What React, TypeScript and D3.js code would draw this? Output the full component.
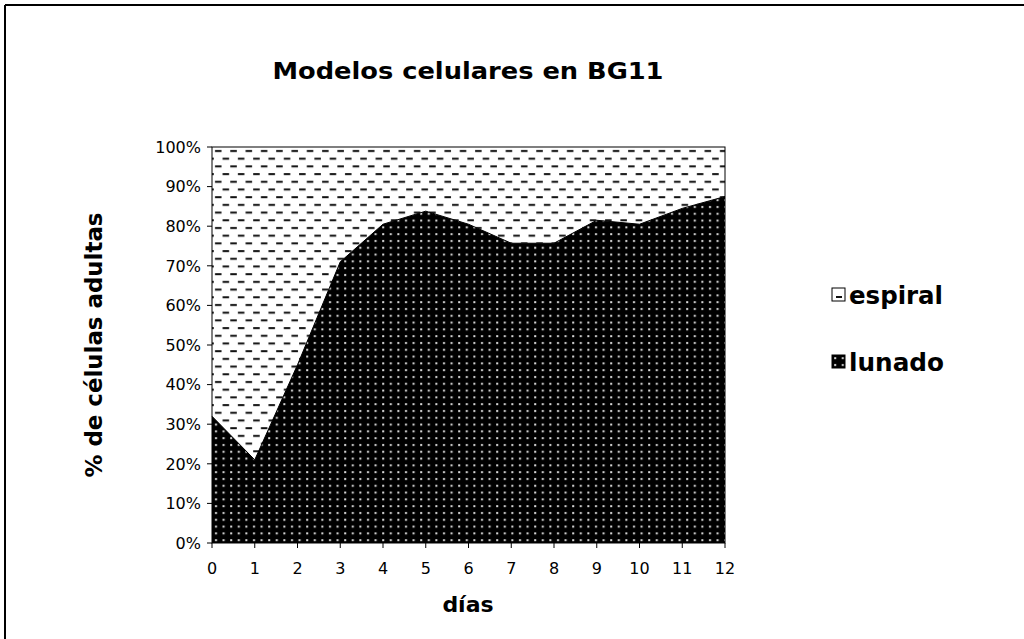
import React from 'react';
import * as d3 from 'd3';

const days = [0, 1, 2, 3, 4, 5, 6, 7, 8, 9, 10, 11, 12];
const lunado = [0.32, 0.21, 0.45, 0.71, 0.805, 0.838, 0.805, 0.757, 0.757, 0.815, 0.805, 0.845, 0.875];
const yTicks = [0, 0.1, 0.2, 0.3, 0.4, 0.5, 0.6, 0.7, 0.8, 0.9, 1];
const seriesNames = ['espiral', 'lunado'];

const font = '"DejaVu Sans", Verdana, sans-serif';

export default function App() {
  const width = 1024;
  const height = 639;
  const left = 212, right = 725, top = 147, bottom = 543;

  const x = d3.scaleLinear().domain([0, 12]).range([left, right]);
  const y = d3.scaleLinear().domain([0, 1]).range([bottom, top]);

  const pts = days.map((d, i) => ({ d, v: lunado[i] }));

  const lunadoArea = d3.area<{ d: number; v: number }>()
    .x((p) => x(p.d))
    .y0(y(0))
    .y1((p) => y(p.v));

  const espiralArea = d3.area<{ d: number; v: number }>()
    .x((p) => x(p.d))
    .y0((p) => y(p.v))
    .y1(y(1));

  const topLine = d3.line<{ d: number; v: number }>()
    .x((p) => x(p.d))
    .y((p) => y(p.v));

  return (
    <svg width={width} height={height} style={{ position: 'absolute', left: 0, top: 0, background: '#fff' }}
      fontFamily={font}>
      <defs>
        <pattern id="dashes" patternUnits="userSpaceOnUse" width="15.3" height="15.4" x={left} y={top}>
          <rect width="15.3" height="15.4" fill="#fff" />
          <rect x="3" y="3" width="6.5" height="2" fill="#111" />
          <rect x="10.6" y="10.7" width="6.5" height="2" fill="#111" />
          <rect x="-4.7" y="10.7" width="6.5" height="2" fill="#111" />
        </pattern>
        <pattern id="dots" patternUnits="userSpaceOnUse" width="7.6" height="6.8" x={left} y={bottom}>
          <rect width="7.6" height="6.8" fill="#000" />
          <rect x="3" y="3" width="2" height="2" fill="#ddd" />
        </pattern>
      </defs>

      {/* outer frame */}
      <line x1={5} y1={5} x2={width} y2={5} stroke="#000" strokeWidth={2} />
      <line x1={5} y1={5} x2={5} y2={height} stroke="#000" strokeWidth={2} />

      <text x={468} y={79} textAnchor="middle" fontWeight="bold" fontSize={23}
        textLength={391} lengthAdjust="spacingAndGlyphs">Modelos celulares en BG11</text>

      <g>
        <path d={espiralArea(pts) ?? ''} fill="url(#dashes)" />
        <path d={lunadoArea(pts) ?? ''} fill="url(#dots)" />
        <path d={topLine(pts) ?? ''} fill="none" stroke="#000" strokeWidth={1} />
        <rect x={left} y={top} width={right - left} height={bottom - top} fill="none" stroke="#000" strokeWidth={1} />
      </g>

      <g>
        {yTicks.map((t) => (
          <g key={t}>
            <line x1={left - 5} x2={left} y1={y(t)} y2={y(t)} stroke="#000" />
            <text x={left - 11} y={y(t)} dy="0.36em" textAnchor="end" fontSize={16}>{d3.format('.0%')(t)}</text>
          </g>
        ))}
      </g>
      <g>
        {days.map((d) => (
          <g key={d}>
            <line x1={x(d)} x2={x(d)} y1={bottom} y2={bottom + 5} stroke="#000" />
            <text x={x(d)} y={bottom + 31} textAnchor="middle" fontSize={16}>{d}</text>
          </g>
        ))}
      </g>

      <text x={468} y={612} textAnchor="middle" fontWeight="bold" fontSize={22}>días</text>
      <text transform={`translate(102,345) rotate(-90)`} textAnchor="middle" fontWeight="bold" fontSize={23}
        textLength={265} lengthAdjust="spacingAndGlyphs">% de células adultas</text>

      <g>
        {seriesNames.map((s, i) => (
          <g key={s} transform={`translate(832,${295 + i * 67})`}>
            <rect x={0} y={-7} width={13} height={13} fill={s === 'lunado' ? 'url(#dots)' : '#fff'} stroke="#000" />
            {s === 'espiral' && <rect x={4} y={1} width={6} height={2} fill="#111" />}
            <text x={17} y={0} dy="0.36em" fontWeight="bold" fontSize={24}
              textLength={s === 'espiral' ? 94 : 95} lengthAdjust="spacingAndGlyphs">{s}</text>
          </g>
        ))}
      </g>
    </svg>
  );
}
